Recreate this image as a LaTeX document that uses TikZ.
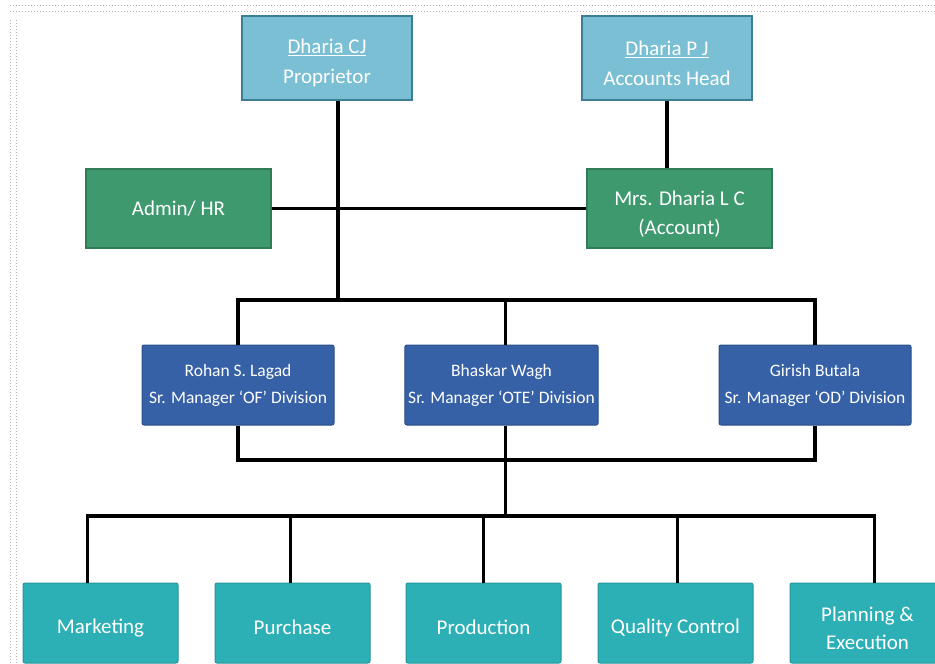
\documentclass[tikz,border=0pt]{standalone}
\usepackage{fontspec}
\setmainfont{Carlito}
\usepackage{tikz}

\definecolor{headfill}{HTML}{7ABFD3}
\definecolor{headline}{HTML}{3C7E95}
\definecolor{staffill}{HTML}{3E9A6E}
\definecolor{staffline}{HTML}{2F7C56}
\definecolor{mgrfill}{HTML}{3661A6}
\definecolor{mgrline}{HTML}{2B4E88}
\definecolor{deptfill}{HTML}{2CB0B6}
\definecolor{deptline}{HTML}{23959B}

\tikzset{
  headbox/.style={draw=headline, fill=headfill, line width=1.5pt, text=white, align=center,
    minimum width=170pt, minimum height=84pt, text height=55pt, font=\fontsize{21}{30}\selectfont},
  staffbox/.style={draw=staffline, fill=staffill, line width=1.5pt, text=white, align=center,
    minimum width=185pt, minimum height=79pt, font=\fontsize{21}{29}\selectfont},
  mgrbox/.style={draw=mgrline, fill=mgrfill, line width=1pt, rounded corners=2pt, text=white, align=center,
    minimum width=192pt, minimum height=80pt, font=\fontsize{17.5}{27}\selectfont},
  deptbox/.style={draw=deptline, fill=deptfill, line width=1pt, rounded corners=2pt, text=white, align=center,
    minimum width=155pt, minimum height=80pt, text height=24pt, font=\fontsize{21}{28}\selectfont},
  link/.style={line width=3.2pt, black}
}

\begin{document}
\begin{tikzpicture}[x=1pt,y=-1pt]
\useasboundingbox (0,0) rectangle (935,664);

% frame of the scanned page
\draw[gray!60, dotted, line width=1pt] (10,5) -- (935,5);
\draw[gray!60, dotted, line width=1pt] (10,11) -- (935,11);
\draw[gray!60, dotted, line width=1pt] (10,20) -- (10,664);
\draw[gray!60, dotted, line width=1pt] (16,20) -- (16,664);

\node[headbox] (cj) at (327,58) {\underline{Dharia CJ}\\Proprietor};
\node[headbox] (pj) at (667,58) {\underline{Dharia P J}\\Accounts Head};

\node[staffbox] (admin) at (178.5,208.5) {Admin/ HR};
\node[staffbox, text height=54pt] (acct) at (679.5,208.5) {Mrs. Dharia L C\\(Account)};

\node[mgrbox] (rohan) at (238,385) {Rohan S. Lagad\\Sr. Manager ‘OF’ Division};
\node[mgrbox] (bhaskar) at (501.5,385) {Bhaskar Wagh\\Sr. Manager ‘OTE’ Division};
\node[mgrbox] (girish) at (815,385) {Girish Butala\\Sr. Manager ‘OD’ Division};

\node[deptbox] (mkt) at (100.5,623) {Marketing};
\node[deptbox] (purch) at (292.5,623) {Purchase};
\node[deptbox] (prod) at (483.5,623) {Production};
\node[deptbox] (qc) at (675.5,623) {Quality Control};
\node[deptbox, text height=53pt] (plan) at (867.5,623) {Planning \&\\Execution};

\coordinate (top) at (338,300);
\coordinate (mid) at (505.5,460);
\coordinate (low) at (505.5,516);

\draw[link] ([xshift=11pt]cj.south) -- (top);
\draw[link] (admin.east) -- (acct.west);
\draw[link] (pj.south) -- (pj.south |- acct.north);

\draw[link] (rohan.north) |- (top) -| (girish.north);
\draw[link] ([xshift=4pt]bhaskar.north) -- ([xshift=4pt]bhaskar.north |- top);

\draw[link] (rohan.south) |- (mid) -| (girish.south);
\draw[link] ([xshift=4pt]bhaskar.south) -- (low);

\draw[link] ([xshift=-13pt]mkt.north) |- (low) -| ([xshift=7pt]plan.north);
\draw[link] ([xshift=-2pt]purch.north) -- ([xshift=-2pt]purch.north |- low);
\draw[link] (prod.north) -- (prod.north |- low);
\draw[link] ([xshift=2pt]qc.north) -- ([xshift=2pt]qc.north |- low);
\end{tikzpicture}
\end{document}
